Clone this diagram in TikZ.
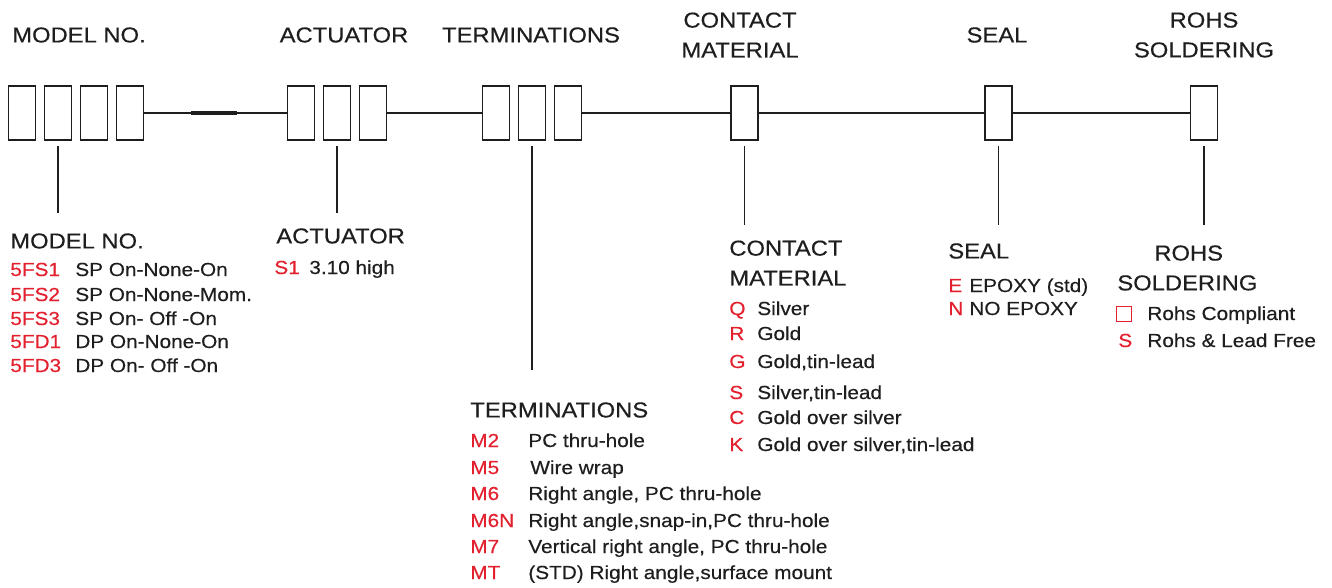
\documentclass[tikz,border=0pt]{standalone}
\usepackage{fontspec}
\setmainfont{Liberation Sans}[FakeStretch=1.1, FakeBold=0.4]
\usetikzlibrary{positioning}
\definecolor{ink}{HTML}{1E1E1E}
\definecolor{codered}{HTML}{E3202E}

\begin{document}
\begin{tikzpicture}[
  x=0.02cm, y=-0.02cm,
  font=\fontsize{10.75}{13}\selectfont, text=ink,
  box/.style={draw=ink, line width=1.1pt, minimum width=0.54cm,
              minimum height=1.08cm, inner sep=0pt},
  bus/.style={draw=ink, line width=1pt},
  lead/.style={draw=ink, line width=1pt},
  hd/.style={font=\fontsize{12.3}{17}\selectfont, inner sep=0pt, align=left},
  item/.style={inner sep=0pt, anchor=base west},
  code/.style={item, text=codered}
]
\useasboundingbox (0,0) rectangle (1332,588);

% top headings
\node[hd] (hdModel) at (79,35) {MODEL NO.};
\node[hd] (hdAct) at (344,35) {ACTUATOR};
\node[hd] (hdTerm) at (531,35) {TERMINATIONS};
\node[hd, align=center] (hdCont) at (740,35) {CONTACT\\MATERIAL};
\node[hd] (hdSeal) at (997,35) {SEAL};
\node[hd, align=center] (hdRohs) at (1204,35) {ROHS\\SOLDERING};

% ordering boxes
\node[box] (m1) at (22,113) {};
\node[box] (m2) at (58,113) {};
\node[box] (m3) at (94,113) {};
\node[box] (m4) at (130,113) {};
\node[box] (a1) at (301,113) {};
\node[box] (a2) at (337,113) {};
\node[box] (a3) at (373,113) {};
\node[box] (t1) at (496,113) {};
\node[box] (t2) at (532,113) {};
\node[box] (t3) at (568,113) {};
\node[box] (c1) at (744.5,113) {};
\node[box] (s1) at (998.5,113) {};
\node[box] (r1) at (1204,113) {};

\draw[bus] (m4.east) -- (a1.west);
\coordinate (dashL) at (191,113);
\coordinate (dashR) at (237,113);
\draw[bus, line width=2pt] (dashL) -- (dashR);
\draw[bus] (a3.east) -- (t1.west);
\draw[bus] (t3.east) -- (c1.west);
\draw[bus] (c1.east) -- (s1.west);
\draw[bus] (s1.east) -- (r1.west);

% leads down to the option lists
\coordinate (mEnd) at (58,213);
\coordinate (aEnd) at (337,213);
\coordinate (tEnd) at (532,370);
\coordinate (cEnd) at (744.5,225);
\coordinate (sEnd) at (998.5,225);
\coordinate (rEnd) at (1204,225);
\draw[lead] ([yshift=-0.1cm]m2.south) -- (mEnd);
\draw[lead] ([yshift=-0.1cm]a2.south) -- (aEnd);
\draw[lead] ([yshift=-0.1cm]t2.south) -- (tEnd);
\draw[lead] ([yshift=-0.1cm]c1.south) -- (cEnd);
\draw[lead] ([yshift=-0.1cm]s1.south) -- (sEnd);
\draw[lead] ([yshift=-0.1cm]r1.south) -- (rEnd);

% model no.
\node[hd, anchor=west] (lsModel) at (10,241) {MODEL NO.};
\node[code] (mc1) at (10,276) {5FS1}; \node[item] (mt1) at (75,276) {SP On-None-On};
\node[code] (mc2) at (10,301) {5FS2}; \node[item] (mt2) at (75,301) {SP On-None-Mom.};
\node[code] (mc3) at (10,325) {5FS3}; \node[item] (mt3) at (75,325) {SP On- Off -On};
\node[code] (mc4) at (10,348) {5FD1}; \node[item] (mt4) at (75,348) {DP On-None-On};
\node[code] (mc5) at (10,372) {5FD3}; \node[item] (mt5) at (75,372) {DP On- Off -On};

% actuator
\node[hd, anchor=west] (lsAct) at (276,236) {ACTUATOR};
\node[code] (ac1) at (274,274) {S1}; \node[item] (at1) at (309,274) {3.10 high};

% terminations
\node[hd, anchor=west] (lsTerm) at (470,410) {TERMINATIONS};
\node[code] (tc1) at (470,447) {M2};  \node[item] (tt1) at (528,447) {PC thru-hole};
\node[code] (tc2) at (470,474) {M5};  \node[item] (tt2) at (530,474) {Wire wrap};
\node[code] (tc3) at (470,500) {M6};  \node[item] (tt3) at (528,500) {Right angle, PC thru-hole};
\node[code] (tc4) at (470,527) {M6N}; \node[item] (tt4) at (528,527) {Right angle,snap-in,PC thru-hole};
\node[code] (tc5) at (470,553) {M7};  \node[item] (tt5) at (528,553) {Vertical right angle, PC thru-hole};
\node[code] (tc6) at (470,579) {MT};  \node[item] (tt6) at (528,579) {(STD) Right angle,surface mount};

% contact material
\node[hd, anchor=west] (lsCont) at (729,263) {CONTACT\\MATERIAL};
\node[code] (cc1) at (729,315) {Q}; \node[item] (ct1) at (757,315) {Silver};
\node[code] (cc2) at (729,340) {R}; \node[item] (ct2) at (757,340) {Gold};
\node[code] (cc3) at (729,368) {G}; \node[item] (ct3) at (757,368) {Gold,tin-lead};
\node[code] (cc4) at (729,399) {S}; \node[item] (ct4) at (757,399) {Silver,tin-lead};
\node[code] (cc5) at (729,424) {C}; \node[item] (ct5) at (757,424) {Gold over silver};
\node[code] (cc6) at (729,451) {K}; \node[item] (ct6) at (757,451) {Gold over silver,tin-lead};

% seal
\node[hd, anchor=west] (lsSeal) at (948,251) {SEAL};
\node[code] (sc1) at (948,292) {E}; \node[item] (st1) at (969,292) {EPOXY (std)};
\node[code] (sc2) at (948,315) {N}; \node[item] (st2) at (969,315) {NO EPOXY};

% rohs soldering
\node[hd, anchor=west] (lsRohs) at (1117,268) {\hspace*{0.74cm}ROHS\\SOLDERING};
\node[draw=codered, line width=0.9pt, minimum size=0.3cm, inner sep=0pt] (rc1) at (1124,314) {};
\node[item] (rt1) at (1147,320) {Rohs Compliant};
\node[code] (rc2) at (1118,347) {S}; \node[item] (rt2) at (1147,347) {Rohs \& Lead Free};

\end{tikzpicture}
\end{document}
